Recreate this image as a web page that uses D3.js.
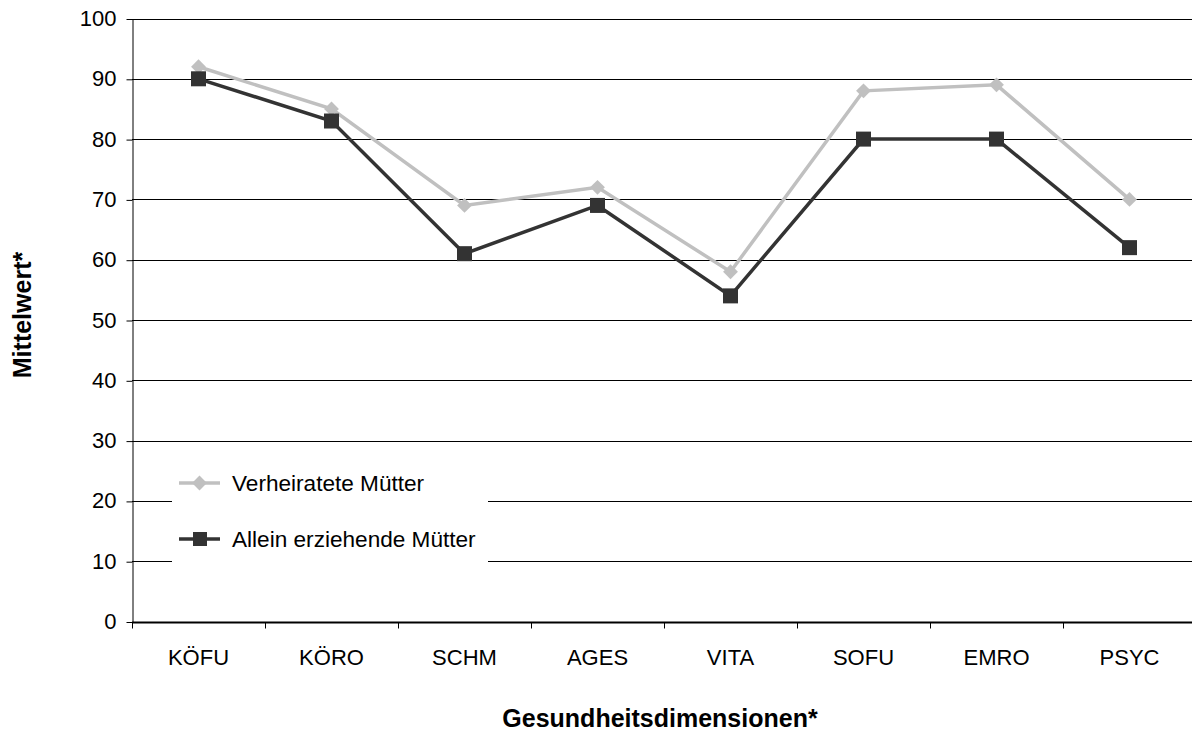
<!DOCTYPE html>
<html><head><meta charset="utf-8">
<script src="https://cdn.jsdelivr.net/npm/d3@7"></script>
<style>body{margin:0;background:#fff}svg{display:block;font-family:"Liberation Sans",Arial,sans-serif}</style>
</head><body><svg id="c" width="1192" height="733"></svg>
<script>
const categories = ["KÖFU","KÖRO","SCHM","AGES","VITA","SOFU","EMRO","PSYC"];
const verheiratet = [92,85,69,72,58,88,89,70];
const alleinerziehend = [90,83,61,69,54,80,80,62];
const yTicks = [0,10,20,30,40,50,60,70,80,90,100];
const seriesNames = ["Verheiratete Mütter","Allein erziehende Mütter"];

const svg = d3.select("#c");
const L = 132, R = 1196, T = 18.5, B = 621.5;
const x = d3.scaleBand().domain(categories).range([L, R]);
const y = d3.scaleLinear().domain([0,100]).range([B, T]);

// gridlines
svg.append("g").selectAll("line").data(yTicks.filter(d=>d>0)).join("line")
  .attr("x1", L).attr("x2", R).attr("y1", d=>Math.round(y(d))+0.5).attr("y2", d=>Math.round(y(d))+0.5)
  .attr("stroke","#000").attr("stroke-width",1);

// y axis
const yAxis = d3.axisLeft(y).tickValues(yTicks).tickSize(6).tickPadding(10).tickSizeOuter(0);
const gy = svg.append("g").attr("transform",`translate(${L+0.5},0)`).call(yAxis);
gy.attr("font-size",22).attr("font-family","Liberation Sans, Arial, sans-serif");
gy.select(".domain").attr("stroke","#000");
gy.selectAll(".tick line").attr("stroke","#000").attr("transform","translate(0,0.5)");
gy.selectAll("text").attr("fill","#000").attr("x",-16);

// x axis
const gx = svg.append("g").attr("transform",`translate(0,${Math.round(B)+0.5})`);
gx.append("line").attr("x1",L).attr("x2",R).attr("stroke","#000").attr("stroke-width",2);
gx.selectAll("line.t").data(categories).join("line").attr("class","t")
  .attr("x1",d=>Math.round(x(d))+0.5).attr("x2",d=>Math.round(x(d))+0.5).attr("y1",0).attr("y2",6).attr("stroke","#000");
gx.selectAll("text").data(categories).join("text")
  .attr("x",d=>x(d)+x.bandwidth()/2).attr("y",42).attr("text-anchor","middle")
  .attr("font-size",22).attr("fill","#000").text(d=>d);

// lines
const line = d3.line().x((d,i)=>x(categories[i])+x.bandwidth()/2).y(d=>y(d));
const colors = ["#c0c0c0","#333333"];
[verheiratet, alleinerziehend].forEach((vals, si)=>{
  svg.append("path").datum(vals).attr("d",line).attr("fill","none")
    .attr("stroke",colors[si]).attr("stroke-width",3.5).attr("stroke-linejoin","miter");
});
const diamond = d3.symbol().type(d3.symbolDiamond2).size(140);
svg.append("g").selectAll("path").data(verheiratet).join("path")
  .attr("d", diamond)
  .attr("transform",(d,i)=>`translate(${x(categories[i])+x.bandwidth()/2},${y(d)})`)
  .attr("fill",colors[0]);
svg.append("g").selectAll("rect").data(alleinerziehend).join("rect")
  .attr("x",(d,i)=>x(categories[i])+x.bandwidth()/2-7.5).attr("y",d=>y(d)-7.5)
  .attr("width",15).attr("height",15).attr("fill",colors[1]);

// legend
const lg = svg.append("g");
lg.append("rect").attr("x",172).attr("y",462).attr("width",316).attr("height",104).attr("fill","#fff");
const ly = [483, 539];
seriesNames.forEach((n,i)=>{
  lg.append("line").attr("x1",179).attr("x2",220).attr("y1",ly[i]).attr("y2",ly[i]).attr("stroke",colors[i]).attr("stroke-width",3.5);
  if(i===0) lg.append("path").attr("d",diamond).attr("transform",`translate(199.5,${ly[i]})`).attr("fill",colors[0]);
  else lg.append("rect").attr("x",193).attr("y",ly[i]-7).attr("width",14).attr("height",14).attr("fill",colors[1]);
  lg.append("text").attr("x",232).attr("y",ly[i]).attr("dy","0.35em").attr("font-size",22.6).attr("fill","#000").text(n);
});

// axis titles
svg.append("text").attr("x",660).attr("y",727).attr("text-anchor","middle")
  .attr("font-size",25).attr("font-weight","bold").text("Gesundheitsdimensionen*");
svg.append("text").attr("transform","translate(31,315) rotate(-90)").attr("text-anchor","middle")
  .attr("font-size",25).attr("font-weight","bold").text("Mittelwert*");
</script></body></html>
